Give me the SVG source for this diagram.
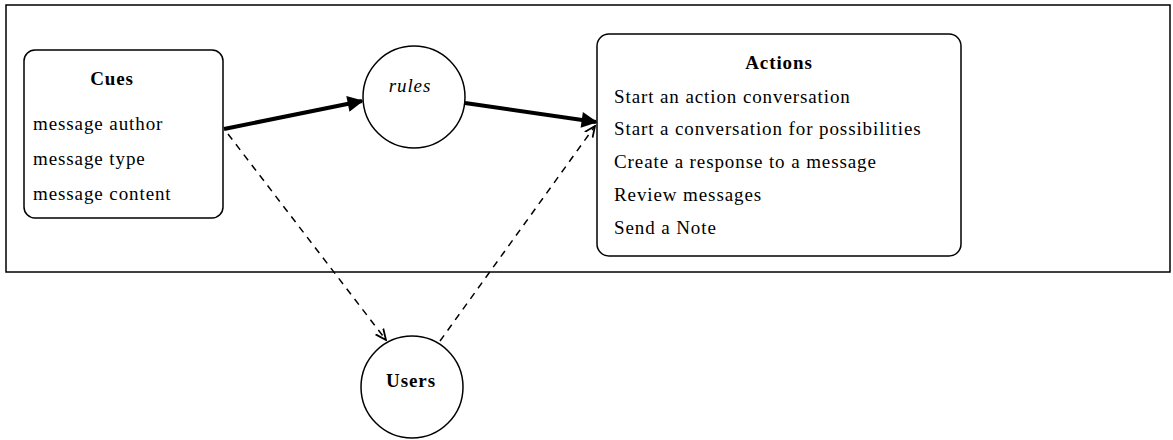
<svg xmlns="http://www.w3.org/2000/svg" width="1173" height="440" viewBox="0 0 1173 440">
  <style>
    .frame { fill: none; stroke: #000; stroke-width: 1.5; }
    .box { fill: #fff; stroke: #000; stroke-width: 1.5; }
    .txt { font-family: "Liberation Serif", "Times New Roman", serif; font-size: 19px; letter-spacing: 0.9px; fill: #000; }
    .title { font-weight: bold; text-anchor: middle; }
    .thick { stroke: #000; stroke-width: 4; fill: none; }
    .dash { stroke: #000; stroke-width: 1.5; fill: none; stroke-dasharray: 7 6; }
  </style>
  <defs>
    <marker id="headSolid" viewBox="0 0 10 10" refX="9" refY="5" markerWidth="5" markerHeight="4" orient="auto" markerUnits="strokeWidth">
      <path d="M0,0 L10,5 L0,10 z" fill="#000"/>
    </marker>
    <marker id="headOpen" viewBox="0 0 10 10" refX="9" refY="5" markerWidth="8" markerHeight="8" orient="auto" markerUnits="strokeWidth">
      <path d="M0,1 L9,5 L0,9" fill="none" stroke="#000" stroke-width="1.5"/>
    </marker>
  </defs>

  <rect width="1173" height="440" fill="#fff"/>
  <rect class="frame" x="6" y="5" width="1164" height="267"/>

  <g id="connectors">
    <line class="thick" x1="224" y1="129" x2="362" y2="101" marker-end="url(#headSolid)"/>
    <line class="thick" x1="465" y1="103" x2="596" y2="122" marker-end="url(#headSolid)"/>
    <line class="dash" x1="228" y1="134" x2="386" y2="340" marker-end="url(#headOpen)"/>
    <line class="dash" x1="440" y1="341" x2="595" y2="126" marker-end="url(#headOpen)"/>
  </g>

  <g id="cues">
    <rect class="box" x="24" y="50" width="199" height="168" rx="11"/>
    <text class="txt title" x="112" y="85">Cues</text>
    <text class="txt" x="33" y="130">message author</text>
    <text class="txt" x="33" y="165">message type</text>
    <text class="txt" x="33" y="200">message content</text>
  </g>

  <g id="rules">
    <circle class="box" cx="414" cy="97" r="51"/>
    <text class="txt" x="410" y="92" text-anchor="middle" font-style="italic">rules</text>
  </g>

  <g id="actions">
    <rect class="box" x="597" y="34" width="364" height="222" rx="12"/>
    <text class="txt title" x="779" y="69">Actions</text>
    <text class="txt" x="614" y="103">Start an action conversation</text>
    <text class="txt" x="614" y="135">Start a conversation for possibilities</text>
    <text class="txt" x="614" y="168">Create a response to a message</text>
    <text class="txt" x="614" y="201">Review messages</text>
    <text class="txt" x="614" y="234">Send a Note</text>
  </g>

  <g id="users">
    <circle class="box" cx="412" cy="387" r="51"/>
    <text class="txt title" x="411" y="387">Users</text>
  </g>
</svg>
